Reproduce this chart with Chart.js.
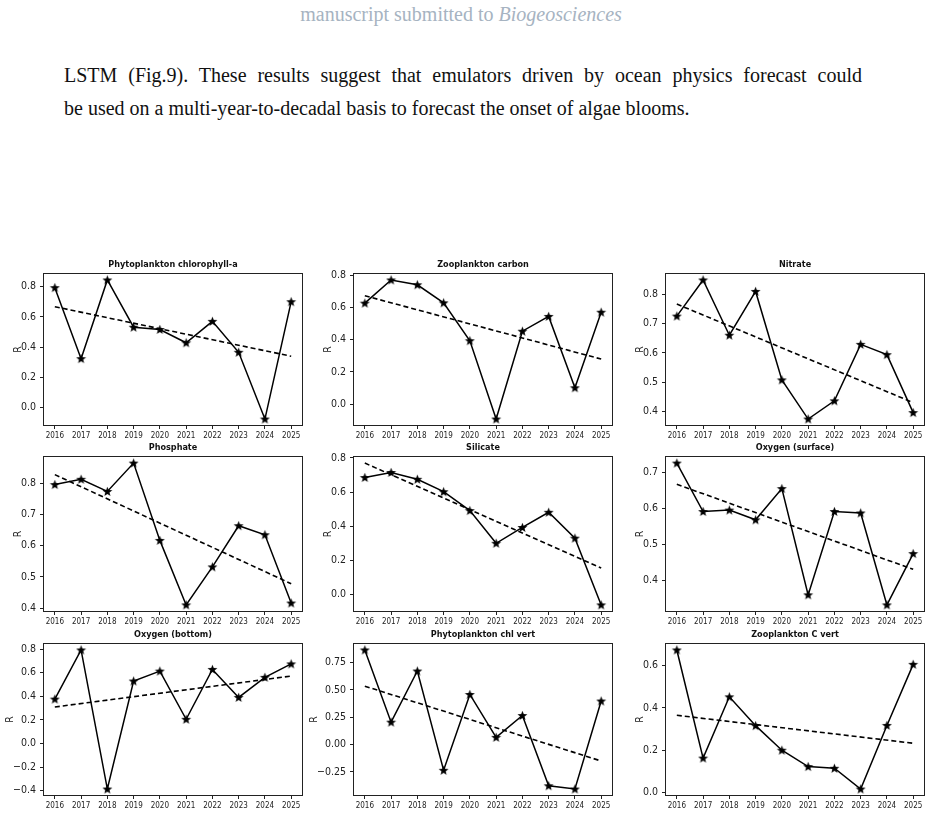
<!DOCTYPE html>
<html>
<head>
<meta charset="utf-8">
<script src="https://cdn.jsdelivr.net/npm/chart.js@4.4.0/dist/chart.umd.min.js"></script>
<style>
  body { margin: 0; background: #fff; width: 931px; height: 817px; position: relative; overflow: hidden; font-family: 'Liberation Serif', 'DejaVu Serif', serif; }
  .hdr { position: absolute; top: 2px; left: 0; width: 922px; text-align: center; color: #a6b3c1; font-size: 20px; line-height: 24px; }
  .line { position: absolute; left: 64px; font-size: 20px; color: #111; white-space: nowrap; line-height: 24px; }
  #l1 { top: 63px; width: 798px; text-align: justify; text-align-last: justify; white-space: normal; }
  #l2 { top: 96px; }
  canvas { position: absolute; }
</style>
</head>
<body>
<div class="hdr">manuscript submitted to <i>Biogeosciences</i></div>
<div class="line" id="l1">LSTM (Fig.9). These results suggest that emulators driven by ocean physics forecast could</div>
<div class="line" id="l2">be used on a multi-year-to-decadal basis to forecast the onset of algae blooms.</div>
<script>
// Data
const years = [2016, 2017, 2018, 2019, 2020, 2021, 2022, 2023, 2024, 2025];
const titles = ['Phytoplankton chlorophyll-a', 'Zooplankton carbon', 'Nitrate',
                'Phosphate', 'Silicate', 'Oxygen (surface)',
                'Oxygen (bottom)', 'Phytoplankton chl vert', 'Zooplankton C vert'];

const phytoChl   = [0.793, 0.323, 0.844, 0.531, 0.516, 0.428, 0.570, 0.365, -0.077, 0.700];
const zooCarbon  = [0.627, 0.771, 0.741, 0.629, 0.394, -0.092, 0.453, 0.545, 0.102, 0.571];
const nitrate    = [0.725, 0.848, 0.660, 0.809, 0.508, 0.375, 0.437, 0.629, 0.594, 0.397];
const phosphate  = [0.796, 0.813, 0.774, 0.865, 0.617, 0.410, 0.532, 0.664, 0.635, 0.416];
const silicate   = [0.685, 0.715, 0.675, 0.602, 0.491, 0.299, 0.392, 0.481, 0.329, -0.063];
const oxySurface = [0.726, 0.591, 0.595, 0.568, 0.655, 0.359, 0.591, 0.587, 0.331, 0.474];
const oxyBottom  = [0.376, 0.792, -0.386, 0.529, 0.613, 0.205, 0.627, 0.390, 0.560, 0.674];
const phytoVert  = [0.867, 0.205, 0.674, -0.236, 0.459, 0.066, 0.266, -0.378, -0.408, 0.399];
const zooVert    = [0.673, 0.163, 0.452, 0.316, 0.200, 0.123, 0.115, 0.017, 0.317, 0.605];

// dashed trend line, value at 2016 and at 2025
const trendStart = [0.667, 0.673, 0.766, 0.828, 0.770, 0.667, 0.309, 0.535, 0.365];
const trendEnd   = [0.339, 0.280, 0.431, 0.478, 0.154, 0.430, 0.571, -0.151, 0.233];
const yTickStep  = [0.2, 0.2, 0.1, 0.1, 0.2, 0.1, 0.2, 0.25, 0.2];

const series = [phytoChl, zooCarbon, nitrate, phosphate, silicate, oxySurface, oxyBottom, phytoVert, zooVert];

// Layout
const colLeft = [43, 353, 665];
const rowTop = [273, 456, 643];
const rowHeight = [153, 156, 153];
const plotW = 260;
const axisW = 52, padTop = 18, padRight = 8, axisH = 16;
const narrow = "'Liberation Sans Narrow', 'DejaVu Sans Condensed', 'Liberation Sans', sans-serif";

// filled star marker
function makeStar() {
    const c = document.createElement('canvas');
    c.width = 11; c.height = 11;
    const g = c.getContext('2d');
    g.beginPath();
    for (let i = 0; i < 10; i++) {
        const r = i % 2 === 0 ? 5.2 : 2.2;
        const a = -Math.PI / 2 + i * Math.PI / 5;
        g.lineTo(5.5 + r * Math.cos(a), 5.9 + r * Math.sin(a));
    }
    g.closePath();
    g.fillStyle = '#000';
    g.fill();
    return c;
}
const star = makeStar();

const framePlugin = {
    id: 'frame',
    afterDraw(chart, args, opts) {
        const { ctx, chartArea: a } = chart;
        ctx.save();
        ctx.strokeStyle = '#222';
        ctx.lineWidth = 1;
        ctx.strokeRect(a.left + 0.5, a.top + 0.5, a.right - a.left - 1, a.bottom - a.top - 1);

        ctx.fillStyle = '#111';
        ctx.font = 'bold 9px ' + narrow;
        ctx.textAlign = 'center';
        ctx.fillText(opts.title, (a.left + a.right) / 2, a.top - 6);

        // y axis label sits just left of the widest tick label
        const ys = chart.scales.y;
        ctx.font = '10.5px ' + narrow;
        let w = 0;
        ys.ticks.forEach(t => { w = Math.max(w, ctx.measureText(t.label).width); });
        ctx.translate(a.left - 3 - 4 - w - 3, (a.top + a.bottom) / 2);
        ctx.rotate(-Math.PI / 2);
        ctx.fillStyle = '#222';
        ctx.textBaseline = 'middle';
        ctx.fillText('R', 0, 0);
        ctx.restore();
    }
};

function fmt(v, step) {
    const dec = step === 0.25 ? 2 : 1;
    const s = Math.abs(v).toFixed(dec);
    return (v < -1e-9 ? '\u2212' : '') + s;
}

series.forEach((vals, i) => {
    const col = i % 3, row = Math.floor(i / 3);
    const h = rowHeight[row];
    const canvas = document.createElement('canvas');
    canvas.width = axisW + plotW + padRight;
    canvas.height = padTop + h + axisH;
    canvas.style.left = (colLeft[col] - axisW) + 'px';
    canvas.style.top = (rowTop[row] - padTop) + 'px';
    document.body.appendChild(canvas);

    const all = vals.concat([trendStart[i], trendEnd[i]]);
    const lo = Math.min(...all), hi = Math.max(...all);
    const m = (hi - lo) * 0.05;
    const step = yTickStep[i];

    new Chart(canvas, {
        type: 'line',
        data: {
            datasets: [
                {
                    data: years.map((y, k) => ({ x: y, y: vals[k] })),
                    borderColor: '#000',
                    borderWidth: 1.5,
                    pointStyle: star,
                    pointRadius: 5,
                    tension: 0
                },
                {
                    data: [{ x: years[0], y: trendStart[i] }, { x: years[years.length - 1], y: trendEnd[i] }],
                    borderColor: '#000',
                    borderWidth: 1.6,
                    borderDash: [5, 3],
                    pointRadius: 0
                }
            ]
        },
        options: {
            responsive: false,
            animation: false,
            devicePixelRatio: 1,
            layout: { padding: { top: padTop, right: padRight, left: 0, bottom: 0 } },
            plugins: { legend: { display: false }, tooltip: { enabled: false }, frame: { title: titles[i] } },
            scales: {
                x: {
                    type: 'linear',
                    min: 2015.55,
                    max: 2025.45,
                    afterBuildTicks: s => { s.ticks = years.map(v => ({ value: v })); },
                    afterFit: s => { s.height = axisH; },
                    ticks: { font: { family: narrow, size: 8 }, color: '#222', padding: 2, maxRotation: 0, autoSkip: false, callback: v => String(v) },
                    grid: { drawOnChartArea: false, drawTicks: true, tickLength: 3, color: '#222' },
                    border: { display: false }
                },
                y: {
                    min: lo - m,
                    max: hi + m,
                    afterBuildTicks: s => {
                        const out = [];
                        for (let v = Math.ceil(s.min / step - 1e-9) * step; v <= s.max + 1e-9; v += step) {
                            out.push({ value: Math.round(v * 1000) / 1000 });
                        }
                        s.ticks = out;
                    },
                    afterFit: s => { s.width = axisW; },
                    ticks: { font: { family: narrow, size: 10.5 }, color: '#222', padding: 4, callback: v => fmt(v, step) },
                    grid: { drawOnChartArea: false, drawTicks: true, tickLength: 3, color: '#222' },
                    border: { display: false }
                }
            }
        },
        plugins: [framePlugin]
    });
});
</script>
</body>
</html>
